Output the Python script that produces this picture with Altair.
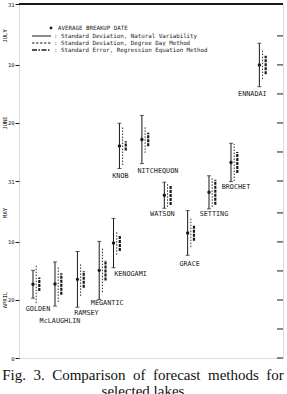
import altair as alt
import pandas as pd

# ---- data (days after March 31) ----
lakes = ["GOLDEN", "McLAUGHLIN", "RAMSEY", "MEGANTIC", "KENOGAMI", "KNOB",
         "NITCHEQUON", "WATSON", "GRACE", "SETTING", "BROCHET", "ENNADAI"]
lake_position = [1.0, 2.0, 3.02, 4.01, 4.66, 4.93, 5.95, 6.97, 8.03, 9.0, 10.0, 11.29]
mean_day = [25.4, 25.5, 27.1, 30.2, 39.6, 73.1, 75.3, 56.1, 43.1, 57.1, 67.4, 101.0]
sd_natural = [4.8, 7.6, 9.6, 10.0, 8.5, 7.8, 8.3, 4.5, 7.7, 5.7, 6.6, 7.5]
sd_degree_day = [6.5, 6.2, 5.7, 7.5, 4.0, 6.6, 4.6, 4.0, 4.9, 5.0, 6.4, 4.9]
se_regression = [2.3, 3.7, 2.9, 3.5, 2.7, 1.6, 2.3, 3.4, 2.7, 4.3, 3.6, 3.2]

tick_days = [0, 10, 20, 30, 40, 50, 61, 71, 81, 91, 101, 111, 122]
month_names = ["APRIL", "MAY", "JUNE", "JULY"]
month_start = [0, 30, 61, 91]

legend_labels = ["AVERAGE BREAKUP DATE",
                 ": Standard Deviation, Natural Variability",
                 ": Standard Deviation, Degree Day Method",
                 ": Standard Error, Regression Equation Method"]
NB = "\u00a0"
caption = ["Fig." + NB * 2 + "3." + NB * 2 + "Comparison" + NB * 2 + "of" + NB * 2 + "forecast"
           + NB * 2 + "methods" + NB * 2 + "for", "selected lakes"]

# ---- styles ----
INK = "#1a1a1a"
MONO = "DejaVu Sans Mono"
label_nudge = {  # (dx, dy) pixels from bottom of the solid bar
    "GOLDEN": (5, 11), "McLAUGHLIN": (5, 15), "RAMSEY": (9, 6), "MEGANTIC": (8, 4),
    "KENOGAMI": (17, 6), "KNOB": (1, 7), "NITCHEQUON": (16, 7), "WATSON": (-2, 6),
    "GRACE": (2, 9), "SETTING": (5, 5), "BROCHET": (5, 5), "ENNADAI": (-7, 7),
}

df = pd.DataFrame({
    "lake": lakes, "pos": lake_position, "mean": mean_day,
    "sdn": sd_natural, "sdd": sd_degree_day, "se": se_regression,
})
df["nat_lo"] = df["mean"] - df["sdn"]
df["nat_hi"] = df["mean"] + df["sdn"]
df["dd_lo"] = df["mean"] - df["sdd"]
df["dd_hi"] = df["mean"] + df["sdd"]
df["re_lo"] = df["mean"] - df["se"]
df["re_hi"] = df["mean"] + df["se"]

xs = alt.X("pos:Q", scale=alt.Scale(domain=[0.364, 12.364], nice=False, zero=False), axis=None)
ys = alt.Scale(domain=[0, 122], nice=False, zero=False)
label_expr = ("datum.value <= 30 ? datum.value : datum.value <= 61 ? datum.value - 30 : "
              "datum.value <= 91 ? datum.value - 61 : datum.value - 91")
yaxis = alt.Axis(values=tick_days, labelExpr=label_expr, title=None, grid=False, domain=False,
                 tickSize=4, tickColor=INK, labelFont=MONO, labelFontSize=5.5, labelColor=INK,
                 labelPadding=1)

base = alt.Chart(df)

natural = base.mark_rule(color=INK, strokeWidth=1).encode(
    x=xs, y=alt.Y("nat_lo:Q", scale=ys, axis=yaxis), y2="nat_hi:Q")
caps = base.transform_fold(["nat_lo", "nat_hi"], as_=["end", "val"]).mark_tick(
    orient="horizontal", size=4, thickness=1, color=INK).encode(x=xs, y="val:Q")
degree = base.mark_rule(color=INK, strokeWidth=0.9, strokeDash=[1.5, 1.5], xOffset=3.2).encode(
    x=xs, y="dd_lo:Q", y2="dd_hi:Q")
regress = base.mark_rule(color=INK, strokeWidth=2.2, strokeDash=[3, 1], xOffset=6.3).encode(
    x=xs, y="re_lo:Q", y2="re_hi:Q")
dots = base.mark_circle(color=INK, size=12, opacity=1).encode(x=xs, y="mean:Q")

label_layers = []
for name in lakes:
    dx, dy = label_nudge[name]
    label_layers.append(
        base.transform_filter(alt.datum.lake == name).mark_text(
            font=MONO, fontSize=6.8, color=INK, dx=dx, dy=dy, baseline="middle", align="center"
        ).encode(x=xs, y="nat_lo:Q", text="lake:N"))

ticks_df = pd.DataFrame({"day": tick_days})
right_ticks = alt.Chart(ticks_df).mark_rule(color=INK, strokeWidth=1).encode(
    x=alt.value(258), x2=alt.value(264), y="day:Q")
top_edge = alt.Chart(pd.DataFrame({"k": [0]})).mark_rule(color=INK, strokeWidth=1.8).encode(
    x=alt.value(0), x2=alt.value(264), y=alt.value(0))

month_df = pd.DataFrame({"name": month_names, "start": month_start})
months = alt.Chart(month_df).transform_calculate(mid="datum.start + 20").mark_text(
    angle=270, font=MONO, fontSize=5.5, color=INK, baseline="middle", align="center"
).encode(x=alt.value(-14), y="mid:Q", text="name:N")

one = pd.DataFrame({"k": [0]})
leg = []
leg.append(alt.Chart(one).mark_circle(color=INK, size=8, opacity=1).encode(
    x=alt.value(32), y=alt.value(24)))
leg.append(alt.Chart(one).mark_rule(color=INK, strokeWidth=1).encode(
    x=alt.value(13), x2=alt.value(32), y=alt.value(32)))
leg.append(alt.Chart(one).mark_rule(color=INK, strokeWidth=1, strokeDash=[2.5, 1.5]).encode(
    x=alt.value(13), x2=alt.value(32), y=alt.value(39)))
leg.append(alt.Chart(one).mark_rule(color=INK, strokeWidth=1.6, strokeDash=[5, 1.5, 1.5, 1.5]).encode(
    x=alt.value(13), x2=alt.value(32), y=alt.value(46)))
for i, (lx, ly) in enumerate([(39, 24), (35, 32), (35, 39), (35, 46)]):
    leg.append(alt.Chart(pd.DataFrame({"t": [legend_labels[i]]})).mark_text(
        font=MONO, fontSize=5.8, color=INK, align="left", baseline="middle").encode(
        x=alt.value(lx), y=alt.value(ly), text="t:N"))

chart = alt.layer(
    natural, caps, degree, regress, dots, right_ticks, top_edge, months, *label_layers, *leg
).properties(
    width=264, height=354,
    padding={"left": 19, "top": 4, "right": 4, "bottom": 36},
    autosize="none",
    title=alt.TitleParams(text=caption, orient="bottom", anchor="middle",
                          font="Liberation Serif", fontSize=15, fontWeight="normal",
                          color="#111", offset=6, lineHeight=16, dx=-8),
).configure_view(stroke=INK, strokeWidth=1.2).configure(background="white")

chart.save("out.html", embed_options={"renderer": "svg", "actions": False})
